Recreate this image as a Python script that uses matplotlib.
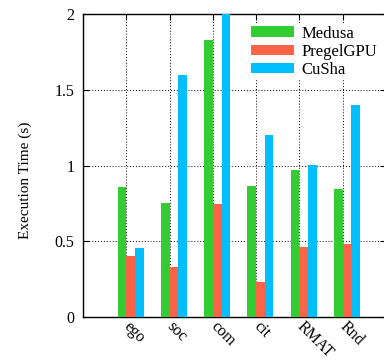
import matplotlib
matplotlib.use("Agg")
import matplotlib.pyplot as plt
import numpy as np

# execution time per graph, seconds
graphs = ["ego", "soc", "com", "cit", "RMAT", "Rnd"]
medusa = [0.86, 0.755, 1.83, 0.866, 0.97, 0.846]
pregelgpu = [0.403, 0.33, 0.747, 0.233, 0.465, 0.485]
cusha = [0.454, 1.60, 2.05, 1.203, 1.005, 1.40]

plt.rcParams['font.family'] = ['Liberation Serif', 'DejaVu Serif']
plt.rcParams['font.size'] = 11.5

fig = plt.figure(figsize=(3.84, 3.6), dpi=100)
ax = fig.add_axes([83 / 384, 43 / 360, 303 / 384, 303 / 360])

x = np.arange(len(graphs))
w = 0.2
ax.bar(x - 0.1, medusa, w, color="#33cc33", label="Medusa", zorder=3)
ax.bar(x + 0.1, pregelgpu, w, color="#ff6347", label="PregelGPU", zorder=3)
ax.bar(x + 0.3, cusha, w, color="#00bfff", label="CuSha", zorder=3)

ax.set_xlim(-1, 6)
ax.set_ylim(0, 2)
ax.set_yticks([0, 0.5, 1, 1.5, 2])
ax.set_yticklabels(["0", "0.5", "1", "1.5", "2"])
ax.set_xticks(x)
ax.set_xticklabels(graphs, rotation=-45, rotation_mode="anchor", ha="left", va="center")
ax.tick_params(direction="in", length=4, width=0.8, top=True, right=True, pad=6)
ax.tick_params(axis="x", pad=5)
ax.grid(True, color="black", linestyle=(0, (1, 2)), linewidth=0.7, zorder=0)
for s in ax.spines.values():
    s.set_linewidth(1.0)

fig.text(25 / 384, 0.5, "Execution Time (s)", rotation=90, ha="center", va="center",
         fontsize=11)

leg = ax.legend(loc="upper left", bbox_to_anchor=(248 / 384, 1 - 23 / 360),
                bbox_transform=fig.transFigure, frameon=True, facecolor="white",
                edgecolor="none", framealpha=1, fancybox=False, borderpad=0.15,
                borderaxespad=0, handlelength=2.6, handleheight=0.6,
                handletextpad=0.48, labelspacing=0.13, fontsize=12)
leg.set_zorder(5)

fig.savefig("out.png", dpi=100)
